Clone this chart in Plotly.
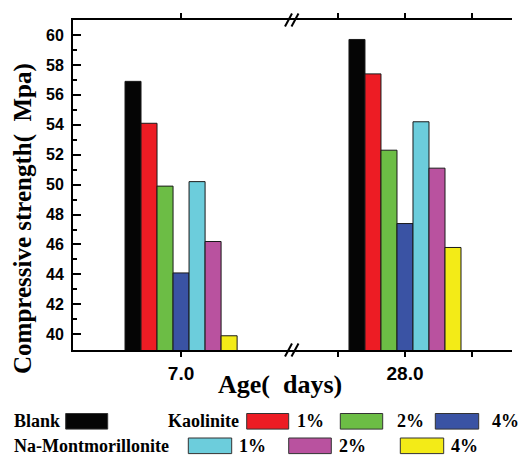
import plotly.graph_objects as go

# ---- data ----
SERIES = ["Blank", "Kaolinite 1%", "Kaolinite 2%", "Kaolinite 4%",
          "Na-Montmorillonite 1%", "Na-Montmorillonite 2%", "Na-Montmorillonite 4%"]
AGES = [7.0, 28.0]
AGE_LABELS = ["7.0", "28.0"]
STRENGTH_7D = [56.9, 54.1, 49.9, 44.1, 50.2, 46.2, 39.9]
STRENGTH_28D = [59.7, 57.4, 52.3, 47.4, 54.2, 51.1, 45.8]
COLORS = ["#050505", "#ed1c24", "#6cbd45", "#3a53a4", "#6ccddc", "#b9529f", "#f3eb17"]
Y_TICKS = list(range(40, 61, 2))

# ---- layout geometry (pixels) ----
W, H = 524, 456
ML, MR, MT, MB = 73, 12, 20, 106
PW, PH = W - ML - MR, H - MT - MB
BREAK_PX = 292
SPLIT = (BREAK_PX - ML) / PW
BAR_W = 1.66  # data units on either age axis


def fx(p):
    return (p - ML) / PW


def fy(p):
    return (H - MB - p) / PH


BLACK = "black"
SANS = "Liberation Sans"
SERIF = "Liberation Serif"
tick_font = dict(family=SANS, size=16, color=BLACK, weight="bold")
xtick_font = dict(family=SANS, size=19, color=BLACK, weight="bold")

fig = go.Figure()

groups = [("x", AGES[0], STRENGTH_7D), ("x2", AGES[1], STRENGTH_28D)]
for axis, age, values in groups:
    for i, (name, val, col) in enumerate(zip(SERIES, values, COLORS)):
        fig.add_trace(go.Bar(
            x=[age], y=[val], xaxis=axis, yaxis="y", name=name,
            width=BAR_W, offset=(i - 3.5) * BAR_W,
            marker=dict(color=col, line=dict(color="#1a1a1a", width=1)),
            showlegend=False, hoverinfo="x+y+name",
        ))

common_x = dict(
    showline=True, linecolor=BLACK, linewidth=2, mirror="ticks",
    ticks="outside", ticklen=5, tickwidth=2, tickcolor=BLACK,
    showgrid=False, zeroline=False, tickfont=xtick_font, anchor="y",
)
fig.update_layout(
    width=W, height=H,
    margin=dict(l=ML, r=MR, t=MT, b=MB, pad=0),
    paper_bgcolor="white", plot_bgcolor="white",
    barmode="overlay",
    xaxis=dict(domain=[0, SPLIT], range=[-4.2, 18.5],
               tickvals=[AGES[0]], ticktext=[AGE_LABELS[0]], **common_x),
    xaxis2=dict(domain=[SPLIT, 1], range=[16.28, 39.1],
                tickvals=[21, AGES[1], 35], ticktext=["", AGE_LABELS[1], ""], **common_x),
    yaxis=dict(range=[38.95, 61], tickvals=Y_TICKS, ticks="inside", ticklen=8,
               tickwidth=2, tickcolor=BLACK, showline=True, linecolor=BLACK, linewidth=2,
               minor=dict(dtick=1, tick0=0, ticks="inside", ticklen=4, tickwidth=1.5,
                          tickcolor=BLACK),
               showgrid=False, zeroline=False, tickfont=tick_font, ticklabelstandoff=4,
               anchor="x"),
    yaxis2=dict(range=[38.95, 61], overlaying="y", side="right", anchor="x2",
                dtick=1, tick0=0, ticks="outside", ticklen=3, tickwidth=1.5,
                tickcolor=BLACK, showline=True, linecolor=BLACK, linewidth=2,
                showticklabels=False, showgrid=False, zeroline=False),
)

shapes = []
# axis break marks on top and bottom edges
for yc in (MT, H - MB):
    for xc in (288.5, 295.0):
        shapes.append(dict(type="line", xref="paper", yref="paper",
                           x0=fx(xc - 3.5), y0=fy(yc + 6.5), x1=fx(xc + 3.5), y1=fy(yc - 6.5),
                           line=dict(color=BLACK, width=2)))

annotations = [
    dict(text="Compressive strength(  Mpa)", xref="paper", yref="paper",
         x=fx(23), y=fy(219), xanchor="center", yanchor="middle", textangle=-90,
         showarrow=False, font=dict(family=SERIF, size=25, color=BLACK, weight="bold")),
    dict(text="Age(  days)", xref="paper", yref="paper",
         x=fx(280), y=fy(384), xanchor="center", yanchor="middle",
         showarrow=False, font=dict(family=SERIF, size=26, color=BLACK, weight="bold")),
]

# legend built from text labels and colour swatches
legend_font = dict(family=SERIF, size=18, color=BLACK, weight="bold")
row1, row2 = 421.3, 445.8
legend_rows = [
    (row1,
     [("Blank", 11.7), ("Kaolinite", 165.7), ("1%", 295.3), ("2%", 395.3), ("4%", 490.3)],
     [(0, 65.7, 107.7), (1, 246.7, 288.7), (2, 340.3, 382.7), (3, 435.3, 478.7)]),
    (row2,
     [("Na-Montmorillonite", 11.7), ("1%", 236.7), ("2%", 337.0), ("4%", 448.7)],
     [(4, 188.3, 231.7), (5, 288.7, 331.3), (6, 400.3, 443.7)]),
]
for yc, labels, swatches in legend_rows:
    for text, x0 in labels:
        annotations.append(dict(text=text, xref="paper", yref="paper", x=fx(x0), y=fy(yc),
                                xanchor="left", yanchor="middle", showarrow=False,
                                font=legend_font))
    for idx, x0, x1 in swatches:
        shapes.append(dict(type="rect", xref="paper", yref="paper",
                           x0=fx(x0), x1=fx(x1), y0=fy(yc + 7.8), y1=fy(yc - 7.8),
                           fillcolor=COLORS[idx], line=dict(color="#333333", width=1)))

fig.update_layout(shapes=shapes, annotations=annotations)
fig.write_html("out.html")
